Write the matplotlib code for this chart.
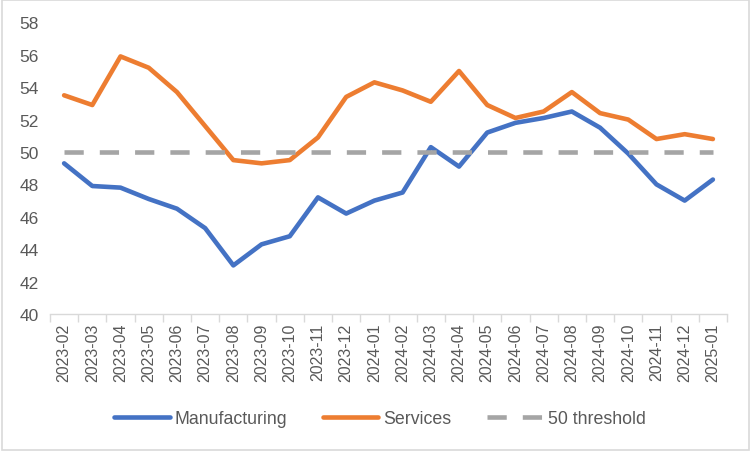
"""
PMI chart - Manufacturing vs Services, with 50 threshold
"""

import numpy as np
import matplotlib
matplotlib.use('Agg')
import matplotlib.pyplot as plt
from matplotlib.patches import Rectangle
from matplotlib.ticker import FixedLocator

months = ['2023-02', '2023-03', '2023-04', '2023-05', '2023-06', '2023-07',
          '2023-08', '2023-09', '2023-10', '2023-11', '2023-12', '2024-01',
          '2024-02', '2024-03', '2024-04', '2024-05', '2024-06', '2024-07',
          '2024-08', '2024-09', '2024-10', '2024-11', '2024-12', '2025-01']

manufacturing = [49.3, 47.9, 47.8, 47.1, 46.5, 45.3, 43.0, 44.3, 44.8, 47.2, 46.2, 47.0,
                 47.5, 50.3, 49.1, 51.2, 51.8, 52.1, 52.5, 51.5, 49.9, 48.0, 47.0, 48.3]

services = [53.5, 52.9, 55.9, 55.2, 53.7, 51.6, 49.5, 49.3, 49.5, 50.9, 53.4, 54.3,
            53.8, 53.1, 55.0, 52.9, 52.1, 52.5, 53.7, 52.4, 52.0, 50.8, 51.1, 50.8]

threshold = [50] * len(months)

y_ticks = [40, 42, 44, 46, 48, 50, 52, 54, 56, 58]


def main():
    plt.rcParams['font.family'] = ['Liberation Sans', 'DejaVu Sans']
    text_col = '#595959'

    fig = plt.figure(figsize=(7.51, 4.52), dpi=100)
    ax = fig.add_axes([50 / 751, 1 - 315 / 452, 677 / 751, 291.6 / 452])

    x = np.arange(len(months))
    ax.plot(x, manufacturing, color='#4472C4', lw=3.3, label='Manufacturing',
            solid_joinstyle='round', solid_capstyle='round')
    ax.plot(x, services, color='#ED7D31', lw=3.3, label='Services',
            solid_joinstyle='round', solid_capstyle='round')
    ax.plot(x, threshold, color='#A5A5A5', lw=3.3, dashes=(4.2, 3.5), label='50 threshold')

    ax.set_xlim(-0.5, len(months) - 0.5)
    ax.set_ylim(40, 58)
    ax.set_yticks(y_ticks)
    ax.set_yticklabels([str(v) for v in y_ticks], color=text_col, fontsize=12.5)

    ax.set_xticks(x)
    ax.set_xticklabels(months, rotation=90, color=text_col, fontsize=11.5)
    ax.xaxis.set_minor_locator(FixedLocator(np.arange(-0.5, len(months), 1.0)))
    ax.tick_params(axis='x', which='major', length=0, pad=6)
    ax.tick_params(axis='x', which='minor', length=6, color='#D9D9D9', width=1)
    ax.tick_params(axis='y', length=0, pad=8)

    for side in ['top', 'right', 'left']:
        ax.spines[side].set_visible(False)
    ax.spines['bottom'].set_color('#D9D9D9')
    ax.spines['bottom'].set_linewidth(1)

    leg = fig.legend(loc='center', bbox_to_anchor=(380 / 751, 1 - 420 / 452), ncol=3,
                     frameon=False, fontsize=12.8, handlelength=3.1, columnspacing=2.0,
                     handletextpad=0.3)
    for t in leg.get_texts():
        t.set_color(text_col)

    # chart border
    fig.add_artist(Rectangle((0.002, 0.003), 0.996, 0.994, transform=fig.transFigure,
                             fill=False, edgecolor='#D9D9D9', lw=1.2))

    fig.savefig('out.png', dpi=100)


if __name__ == '__main__':
    main()
